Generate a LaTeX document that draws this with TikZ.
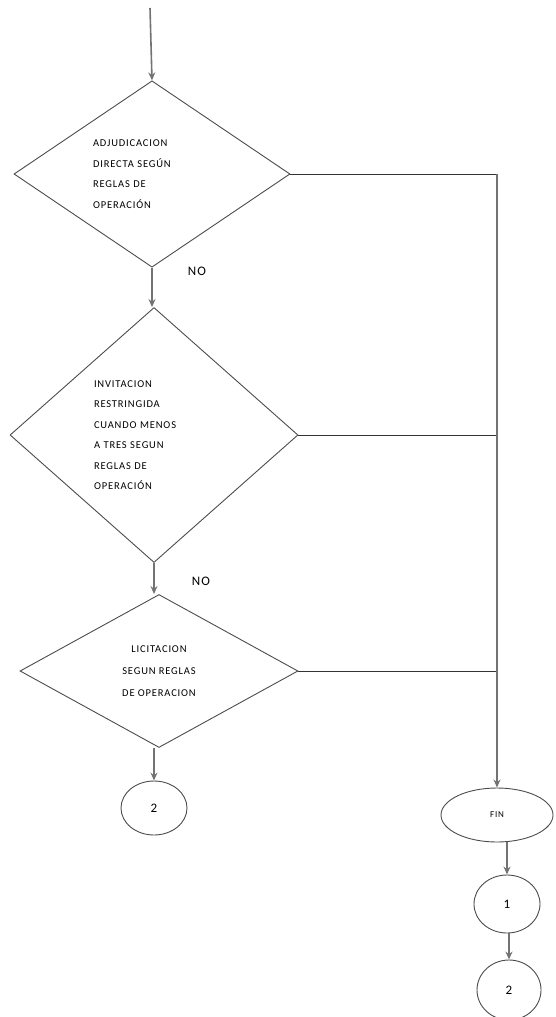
\documentclass[tikz,border=0pt]{standalone}
\usepackage{fontspec}
\setmainfont{Carlito}[LetterSpace=8]
\usetikzlibrary{shapes.geometric,arrows.meta}
\begin{document}
\begin{tikzpicture}[x=1pt, y=-1pt, >={Stealth[length=8pt,width=7pt]},
    decision/.style={diamond, draw=black!70, line width=0.9pt, inner sep=0pt, font=\fontsize{10.5}{20.5}\selectfont},
    terminal/.style={ellipse, draw=black!70, line width=0.9pt, inner sep=0pt, font=\fontsize{13}{15}\selectfont},
    flow/.style={->, draw=black!55, line width=1.6pt},
    link/.style={draw=black!80, line width=1pt},
    tag/.style={font=\fontsize{13}{15}\selectfont}]
  \useasboundingbox (0,0) rectangle (556,1017);
  \coordinate (start) at (150,8);
  \node[decision, minimum width=276pt, minimum height=182pt,
        text width=118pt, align=left] (d1) at (152,174)
    {ADJUDICACION\\DIRECTA SEGÚN\\REGLAS DE\\OPERACIÓN};
  \node[decision, minimum width=288pt, minimum height=255pt,
        text width=120pt, align=left] (d2) at (154,435)
    {INVITACION\\RESTRINGIDA\\CUANDO MENOS\\A TRES SEGUN\\REGLAS DE\\OPERACIÓN};
  \node[decision, minimum width=278pt, minimum height=153pt,
        font=\fontsize{10.5}{22}\selectfont, align=center] (d3) at (159,671)
    {LICITACION\\SEGUN REGLAS\\DE OPERACION};
  \node[terminal, minimum width=66pt, minimum height=54pt] (c2) at (154,808) {2};
  \node[terminal, minimum width=112pt, minimum height=54pt,
        font=\fontsize{9}{11}\selectfont] (fin) at (497,815) {FIN};
  \node[terminal, minimum width=66pt, minimum height=58pt] (c1) at (507,904) {1};
  \node[terminal, minimum width=64pt, minimum height=60pt] (c2b) at (509,990) {2};
  \node[tag] (no1) at (197,271) {NO};
  \node[tag] (no2) at (201,581) {NO};

  \draw[flow] (start) -- (d1.north);
  \draw[flow] (d1.south) -- (d2.north -| d1.south);
  \draw[flow] (d2.south) -- (d3.north -| d2.south);
  \draw[flow] (d3.south -| c2.north) -- (c2.north);
  \draw[link] (d1.east) -- (d1.east -| fin.north);
  \draw[link] (d2.east) -- (d2.east -| fin.north);
  \draw[link] (d3.east) -- (d3.east -| fin.north);
  \draw[flow] (d1.east -| fin.north) -- (fin.north);
  \draw[flow] (fin.south -| c1.north) -- (c1.north);
  \draw[flow] (c1.south -| c2b.north) -- (c2b.north);
\end{tikzpicture}
\end{document}
